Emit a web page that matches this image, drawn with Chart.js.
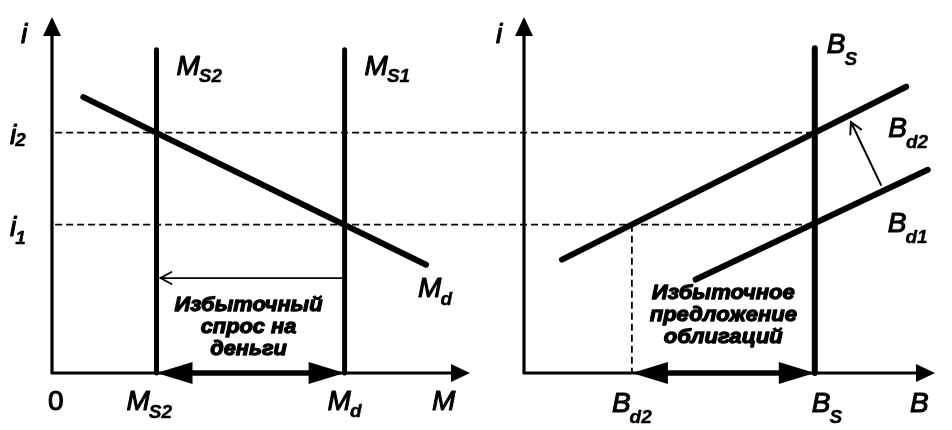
<!DOCTYPE html>
<html><head><meta charset="utf-8">
<script src="https://cdn.jsdelivr.net/npm/chart.js@4"></script>
<style>
html,body{margin:0;padding:0;background:#fff;}
#wrap{position:relative;width:952px;height:430px;overflow:hidden;background:#fff;}
.pane{position:absolute;top:0;width:476px;height:430px;}
</style></head><body>
<div id="wrap">
<div class="pane" style="left:0"><canvas id="money" width="476" height="430"></canvas></div>
<div class="pane" style="left:476px"><canvas id="bonds" width="476" height="430"></canvas></div>
</div>
<script>
// ---------- data (abstract units) ----------
const rateLevels   = [5, 8.1];            // i1, i2
const rateLabels   = ['1', '2'];           // subscripts of i
const moneySupply  = [14, 5];              // M_S1 (= M_d at i1), M_S2
const supplyTop    = 10.9;                 // top of the vertical supply lines
const demandM      = [1.5, 17.9];          // M along the M_d line
const demandI      = [9.3, 3.65];          // i along the M_d line
const bondSupply   = 14.15;                // B_S
const bondSupplyTop = 10.95;
const bondDemand2  = 5.25;                 // B_d2 at i1
const bd2B = [1.85, 18.6], bd2I = [3.82, 9.65];   // B_d2 curve
const bd1B = [8.35, 19.65], bd1I = [3.15, 6.85];  // B_d1 curve
const shiftB = [17.37, 15.91], shiftI = [6.34, 8.46]; // shift arrow B_d1 -> B_d2
const excessArrowI = 3.2;                  // thin arrow level on the money chart
const moneyText = ['Избыточный', 'спрос на', 'деньги'];
const bondText  = ['Избыточное', 'предложение', 'облигаций'];
const axisMax = {x: 20, y: 12};

// ---------- helpers ----------
const MAINF = 'italic 28px "Liberation Sans", Arial, sans-serif';
const SUBF  = 'italic bold 19px "Liberation Sans", Arial, sans-serif';
function P(chart, x, y){ return [chart.scales.x.getPixelForValue(x), chart.scales.y.getPixelForValue(y)]; }
function heavyText(ctx, t, x, y, lw){
  ctx.fillText(t, x, y);
  if (lw){ ctx.lineWidth = lw; ctx.lineJoin = 'round'; ctx.strokeStyle = '#000'; ctx.strokeText(t, x, y); }
}
function sym(ctx, x, y, main, sub, dy, font){
  ctx.save(); ctx.fillStyle = '#000'; ctx.textBaseline = 'alphabetic'; ctx.textAlign = 'left';
  ctx.font = font || MAINF; heavyText(ctx, main, x, y, 1.1);
  const w = ctx.measureText(main).width;
  if (sub){ ctx.font = SUBF; heavyText(ctx, sub, x + w - 1, y + dy, 0.4); }
  ctx.restore();
}
function filledHead(ctx, tx, ty, fx, fy, len, half){
  const a = Math.atan2(ty - fy, tx - fx);
  ctx.beginPath();
  ctx.moveTo(tx, ty);
  ctx.lineTo(tx - len*Math.cos(a) + half*Math.sin(a), ty - len*Math.sin(a) - half*Math.cos(a));
  ctx.lineTo(tx - len*Math.cos(a) - half*Math.sin(a), ty - len*Math.sin(a) + half*Math.cos(a));
  ctx.closePath(); ctx.fill();
}
function openArrow(ctx, fx, fy, tx, ty, lw){
  const a = Math.atan2(ty - fy, tx - fx), len = 11, half = 6;
  ctx.save(); ctx.lineWidth = lw; ctx.strokeStyle = '#000'; ctx.lineCap = 'round';
  ctx.beginPath(); ctx.moveTo(fx, fy); ctx.lineTo(tx, ty); ctx.stroke();
  ctx.beginPath();
  ctx.moveTo(tx - len*Math.cos(a) + half*Math.sin(a), ty - len*Math.sin(a) - half*Math.cos(a));
  ctx.lineTo(tx, ty);
  ctx.lineTo(tx - len*Math.cos(a) - half*Math.sin(a), ty - len*Math.sin(a) + half*Math.cos(a));
  ctx.stroke(); ctx.restore();
}
function axes(ctx, chart){
  const [ox, oy] = P(chart, 0, 0), [, ty] = P(chart, 0, axisMax.y), [rx] = P(chart, axisMax.x, 0);
  ctx.save(); ctx.strokeStyle = '#000'; ctx.fillStyle = '#000'; ctx.lineWidth = 3.2;
  ctx.beginPath(); ctx.moveTo(ox, oy + 1); ctx.lineTo(ox, ty + 10); ctx.stroke();
  ctx.beginPath(); ctx.moveTo(ox - 1, oy); ctx.lineTo(rx - 10, oy); ctx.stroke();
  filledHead(ctx, ox, ty, ox, oy, 19, 9);
  filledHead(ctx, rx, oy, ox, oy, 19, 9);
  ctx.restore();
}
function doubleArrow(ctx, x1, x2, y){
  ctx.save(); ctx.fillStyle = '#000'; ctx.strokeStyle = '#000'; ctx.lineWidth = 5.5;
  ctx.beginPath(); ctx.moveTo(x1 + 20, y); ctx.lineTo(x2 - 20, y); ctx.stroke();
  filledHead(ctx, x1, y, x2, y, 36, 11);
  filledHead(ctx, x2, y, x1, y, 36, 11);
  ctx.restore();
}
function textBlock(ctx, cx, ys, lines, targetW){
  ctx.save(); ctx.fillStyle = '#000';
  ctx.font = 'italic bold 20px "Liberation Sans", Arial, sans-serif';
  const sx = targetW / ctx.measureText(lines[0]).width;
  ctx.textAlign = 'center'; ctx.textBaseline = 'middle';
  lines.forEach((t, k) => { ctx.save(); ctx.translate(cx, ys[k]); ctx.scale(sx, 1.05); heavyText(ctx, t, 0, 0, 1.2); ctx.restore(); });
  ctx.restore();
}
function seg(label, xs, ys, w, dash){
  return {label, data: xs.map((x, k) => ({x, y: ys[k]})), showLine: true, borderColor: '#000',
    borderWidth: w, pointRadius: 0, borderCapStyle: dash ? 'butt' : 'round', borderDash: dash || [], clip: false, tension: 0};
}
function baseOptions(padding){
  return {responsive: false, devicePixelRatio: 1, animation: false, layout: {padding},
    plugins: {legend: {display: false}, tooltip: {enabled: false}},
    scales: {x: {type: 'linear', min: 0, max: axisMax.x, display: false},
             y: {type: 'linear', min: 0, max: axisMax.y, display: false}}};
}

// ---------- money market ----------
const moneyPad = {left: 52, right: 6, top: 17, bottom: 57};
const moneyEdge = (476 - moneyPad.left) / ((476 - moneyPad.left - moneyPad.right) / axisMax.x);
new Chart(document.getElementById('money'), {
  type: 'scatter',
  data: {datasets: [
    seg('i2', [0.15, moneyEdge], [rateLevels[1], rateLevels[1]], 1.8, [7, 4]),
    seg('i1', [0.15, moneyEdge], [rateLevels[0], rateLevels[0]], 1.8, [7, 4]),
    seg('MS2', [moneySupply[1], moneySupply[1]], [0, supplyTop], 5),
    seg('MS1', [moneySupply[0], moneySupply[0]], [0, supplyTop], 5),
    seg('Md', demandM, demandI, 6)
  ]},
  options: baseOptions(moneyPad),
  plugins: [{id: 'moneyDeco',
    beforeDatasetsDraw(chart){ axes(chart.ctx, chart); },
    afterDatasetsDraw(chart){
      const ctx = chart.ctx;
      const [x2] = P(chart, moneySupply[1], 0), [x1, oy] = P(chart, moneySupply[0], 0);
      doubleArrow(ctx, x2, x1, oy);
      const [, ay] = P(chart, 0, excessArrowI);
      openArrow(ctx, x1, ay, x2 + 4, ay, 1.8);
      const [tx] = P(chart, (moneySupply[0] + moneySupply[1]) / 2, 0);
      textBlock(ctx, tx - 2, [305, 327, 349], moneyText, 148);
      // labels
      const [ax, topY] = P(chart, 0, axisMax.y), [rx] = P(chart, axisMax.x, 0);
      sym(ctx, ax - 31, topY + 26, 'i');
      rateLevels.forEach((r, k) => { const [, y] = P(chart, 0, r); sym(ctx, ax - 42, y + 11, 'i', rateLabels[k], k ? 2 : 8); });
      sym(ctx, ax - 4, oy + 37, '0', null, 0, '28px "Liberation Sans", Arial, sans-serif');
      sym(ctx, x2 - 30, oy + 37, 'M', 'S2', 8);
      sym(ctx, x1 - 17, oy + 37, 'M', 'd', 7);
      sym(ctx, rx - 38, oy + 37, 'M');
      const [, sty] = P(chart, 0, supplyTop);
      sym(ctx, x2 + 20, sty + 25, 'M', 'S2', 7);
      sym(ctx, x1 + 20, sty + 25, 'M', 'S1', 7);
      const [ex, ey] = P(chart, demandM[1], demandI[1]);
      sym(ctx, ex - 8, ey + 32, 'M', 'd', 8);
    }}]
});

// ---------- bond market ----------
const bondPad = {left: 48, right: 17, top: 17, bottom: 57};
const bondEdge = -bondPad.left / ((476 - bondPad.left - bondPad.right) / axisMax.x);
new Chart(document.getElementById('bonds'), {
  type: 'scatter',
  data: {datasets: [
    seg('i2', [bondEdge, bondSupply], [rateLevels[1], rateLevels[1]], 1.8, [7, 4]),
    seg('i1', [bondEdge, bondSupply], [rateLevels[0], rateLevels[0]], 1.8, [7, 4]),
    seg('Bd2 drop', [bondDemand2, bondDemand2], [rateLevels[0], 0], 1.8, [7, 4]),
    seg('BS', [bondSupply, bondSupply], [0, bondSupplyTop], 6),
    seg('Bd2', bd2B, bd2I, 6),
    seg('Bd1', bd1B, bd1I, 6)
  ]},
  options: baseOptions(bondPad),
  plugins: [{id: 'bondDeco',
    beforeDatasetsDraw(chart){ axes(chart.ctx, chart); },
    afterDatasetsDraw(chart){
      const ctx = chart.ctx;
      const [xd, oy] = P(chart, bondDemand2, 0), [xs] = P(chart, bondSupply, 0);
      doubleArrow(ctx, xd, xs, oy);
      const [fx, fy] = P(chart, shiftB[0], shiftI[0]), [tx, ty] = P(chart, shiftB[1], shiftI[1]);
      openArrow(ctx, fx, fy, tx, ty, 2);
      const [cx] = P(chart, (bondDemand2 + bondSupply) / 2, 0);
      textBlock(ctx, cx, [293, 315, 337], bondText, 143);
      const [ax, topY] = P(chart, 0, axisMax.y), [rx] = P(chart, axisMax.x, 0);
      sym(ctx, ax - 28, topY + 26, 'i');
      sym(ctx, xd - 20, oy + 39, 'B', 'd2', 11);
      sym(ctx, xs - 3, oy + 39, 'B', 'S', 11);
      sym(ctx, rx - 25, oy + 39, 'B');
      const [, sty] = P(chart, 0, bondSupplyTop);
      sym(ctx, xs + 12, sty + 5, 'B', 'S', 12);
      const [e2x, e2y] = P(chart, bd2B[1], bd2I[1]);
      sym(ctx, e2x - 18, e2y + 50, 'B', 'd2', 11);
      const [e1x, e1y] = P(chart, bd1B[1], bd1I[1]);
      sym(ctx, e1x - 40, e1y + 62, 'B', 'd1', 11);
    }}]
});
</script>
</body></html>
